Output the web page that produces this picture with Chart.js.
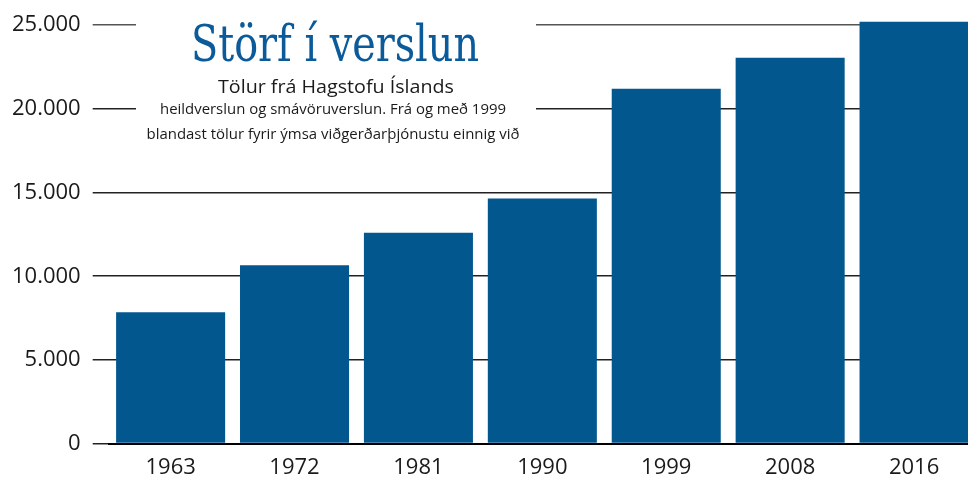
<!DOCTYPE html>
<html>
<head>
<meta charset="utf-8">
<script src="https://cdn.jsdelivr.net/npm/chart.js@4"></script>
<style>
  html, body { margin: 0; padding: 0; background: #fff; overflow: hidden; }
  #wrap { width: 976px; height: 483px; }
</style>
</head>
<body>
<div id="wrap"><canvas id="graf"></canvas></div>
<script>
// gögn lesin af myndinni
const ar = ['1963', '1972', '1981', '1990', '1999', '2008', '2016'];
const storf = [7850, 10650, 12600, 14650, 21200, 23050, 25200];
const yTicks = [0, 5000, 10000, 15000, 20000, 25000];

const titill = 'Störf í verslun';
const undirtitill = 'Tölur frá Hagstofu Íslands';
const skyring = [
    'heildverslun og smávöruverslun. Frá og með 1999',
    'blandast tölur fyrir ýmsa viðgerðarþjónustu einnig við'
];

const blar = '#02578f';
const textColor = '#1a1a1a';

function punktar(v) {
    return String(v).replace(/\B(?=(\d{3})+(?!\d))/g, '.');
}

// teiknar texta þjappaðan í ákveðna breidd
function textiBreidd(ctx, txt, x, y, breidd) {
    const w = ctx.measureText(txt).width;
    ctx.save();
    ctx.translate(x, y);
    ctx.scale(breidd / w, 1);
    ctx.fillText(txt, 0, 0);
    ctx.restore();
}

// hvítur kassi með titli ofan á hnitanetinu
const titilPlugin = {
    id: 'titilKassi',
    afterDraw(chart) {
        const ctx = chart.ctx;
        ctx.save();
        ctx.fillStyle = '#fff';
        ctx.fillRect(136, 0, 400, 180);
        ctx.textAlign = 'center';
        ctx.textBaseline = 'alphabetic';
        ctx.fillStyle = '#0b5a9a';
        ctx.font = '50px "DejaVu Serif"';
        textiBreidd(ctx, titill, 335, 61, 288);
        ctx.fillStyle = textColor;
        ctx.font = '19px "Open Sans"';
        textiBreidd(ctx, undirtitill, 336, 93, 236);
        ctx.font = '15px "Open Sans"';
        textiBreidd(ctx, skyring[0], 333, 114, 346);
        textiBreidd(ctx, skyring[1], 333, 139, 373);
        ctx.restore();
    }
};

Chart.defaults.font.family = "'Open Sans', sans-serif";
Chart.defaults.color = textColor;

new Chart(document.getElementById('graf').getContext('2d'), {
    type: 'bar',
    data: {
        labels: ar,
        datasets: [{
            data: storf,
            backgroundColor: blar,
            borderWidth: 0,
            categoryPercentage: 0.88,
            barPercentage: 1,
            clip: false
        }]
    },
    options: {
        responsive: true,
        maintainAspectRatio: false,
        animation: false,
        layout: { padding: { top: 12, right: 0, left: 0, bottom: -9 } },
        plugins: {
            legend: { display: false },
            tooltip: { enabled: false }
        },
        scales: {
            x: {
                grid: { display: false, drawTicks: false },
                border: { display: true, color: '#000', width: 2 },
                ticks: { font: { size: 22 }, color: textColor, padding: 11 }
            },
            y: {
                min: 0,
                max: 25000,
                afterBuildTicks: (scale) => { scale.ticks = yTicks.map(v => ({ value: v })); },
                grid: {
                    color: (c) => c.tick && c.tick.value === 25000 ? '#555' : '#222',
                    lineWidth: 1.5,
                    tickLength: 16,
                    drawTicks: true
                },
                border: { display: false },
                ticks: {
                    font: { size: 22 },
                    color: textColor,
                    padding: 12,
                    callback: (v) => punktar(v)
                }
            }
        }
    },
    plugins: [titilPlugin]
});
</script>
</body>
</html>
